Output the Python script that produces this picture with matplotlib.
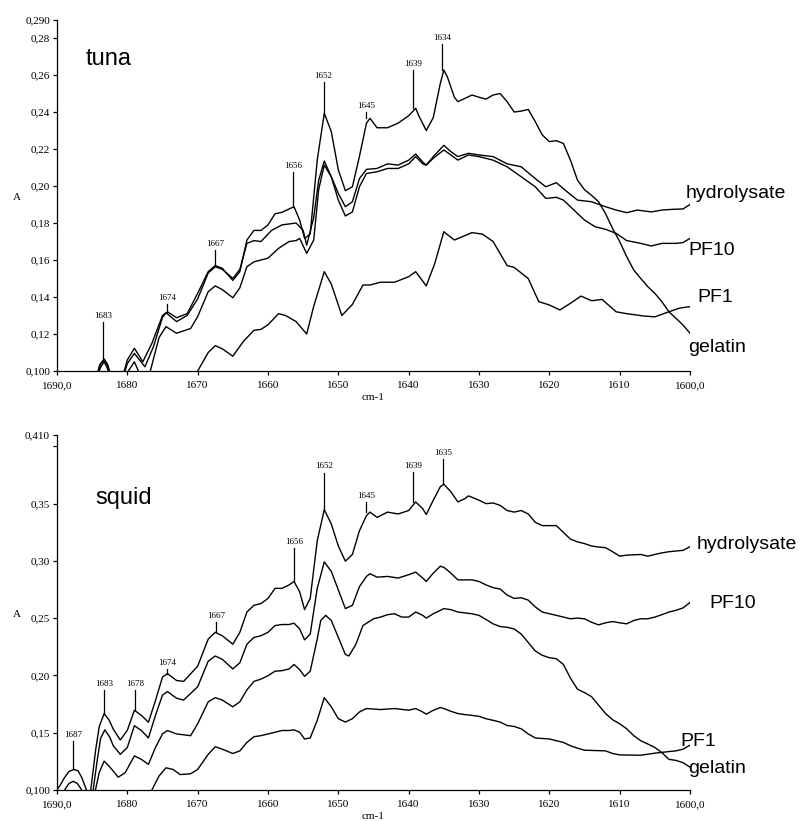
import numpy as np
import matplotlib
matplotlib.use("Agg")
from matplotlib import pyplot as plt

# ---- tuna panel: (wavenumber, absorbance) ----
tuna_gelatin = [
    (1690, 0.06), (1685, 0.085), (1684.3, 0.098), (1683.9, 0.1035), (1683.3, 0.1065),
    (1682.8, 0.1035), (1682.4, 0.098), (1681.5, 0.085), (1680.6, 0.098), (1680, 0.106),
    (1679, 0.1123), (1677.8, 0.105), (1676.5, 0.115), (1675, 0.130), (1674.3, 0.132),
    (1673, 0.1288), (1671.5, 0.131), (1670, 0.142), (1668.5, 0.1537), (1667.5, 0.157),
    (1666.5, 0.1555), (1665, 0.149), (1664, 0.1537), (1663, 0.1708), (1662, 0.176),
    (1661, 0.176), (1660, 0.179), (1659, 0.185), (1658, 0.1858), (1657, 0.1876),
    (1656.3, 0.1888), (1655.5, 0.1816), (1654.8, 0.1717), (1654, 0.174), (1653, 0.214),
    (1652, 0.2393), (1651, 0.2294), (1650, 0.2087), (1649, 0.1975), (1648, 0.1996),
    (1647, 0.216), (1646, 0.234), (1645.5, 0.2366), (1644.5, 0.2315), (1643, 0.2315),
    (1641.5, 0.234), (1640, 0.238), (1639, 0.242), (1638.5, 0.2375), (1637.5, 0.230),
    (1636.5, 0.237), (1635.5, 0.2555), (1635, 0.2627), (1634.5, 0.259), (1633.5, 0.248),
    (1633, 0.2456), (1632, 0.2474), (1631, 0.2492), (1630, 0.248), (1629, 0.247),
    (1628, 0.2492), (1627, 0.250), (1626, 0.2456), (1625, 0.240), (1624, 0.2405),
    (1623, 0.2414), (1622, 0.2348), (1621, 0.2276), (1620, 0.224), (1619, 0.2245),
    (1618, 0.223), (1617, 0.214), (1616, 0.2032), (1615, 0.198), (1614, 0.195),
    (1613, 0.1915), (1612, 0.185), (1611, 0.177), (1610, 0.170), (1609, 0.1618),
    (1608, 0.1546), (1607, 0.150), (1606, 0.1456), (1605, 0.142), (1604, 0.1375),
    (1603, 0.132), (1602, 0.1285), (1601, 0.1249), (1600, 0.1204),
]
tuna_hydrolysate = [
    (1690, 0.06), (1685, 0.085), (1684.3, 0.098), (1683.9, 0.103), (1683.3, 0.106),
    (1682.8, 0.103), (1682.4, 0.098), (1681.5, 0.085), (1680.5, 0.098), (1680, 0.104),
    (1679, 0.1095), (1677.5, 0.1023), (1676.3, 0.113), (1675, 0.129), (1674.5, 0.1315),
    (1673, 0.1267), (1671.5, 0.130), (1670, 0.139), (1668.5, 0.153), (1667.5, 0.1564),
    (1666.5, 0.155), (1665, 0.150), (1664, 0.155), (1663, 0.169), (1662, 0.1705),
    (1661, 0.170), (1659.5, 0.176), (1658, 0.179), (1656, 0.180), (1655, 0.176),
    (1654.5, 0.168), (1653.5, 0.183), (1652.8, 0.203), (1652, 0.2135), (1651, 0.205),
    (1650, 0.196), (1649, 0.1888), (1648, 0.1915), (1647, 0.204), (1646, 0.209),
    (1644.5, 0.2095), (1643, 0.212), (1641.5, 0.2113), (1640, 0.214), (1639, 0.2173),
    (1638, 0.213), (1637.5, 0.2113), (1636.5, 0.2159), (1635, 0.222), (1634, 0.2186),
    (1633, 0.2159), (1631.5, 0.2177), (1630, 0.2168), (1628, 0.2159), (1626, 0.212),
    (1624, 0.2104), (1622, 0.204), (1620.5, 0.1996), (1619, 0.2018), (1617.5, 0.197),
    (1616, 0.1924), (1614, 0.1915), (1612, 0.1888), (1610.5, 0.187), (1609, 0.1856),
    (1607.5, 0.187), (1605.5, 0.186), (1604, 0.187), (1602.5, 0.1874), (1601, 0.1876),
    (1600, 0.190),
]
tuna_pf10 = [
    (1690, 0.06), (1685, 0.085), (1684.2, 0.098), (1683.8, 0.102), (1683.3, 0.105),
    (1682.9, 0.102), (1682.5, 0.098), (1681.5, 0.085), (1680.2, 0.098), (1679, 0.105),
    (1678.2, 0.098), (1677.5, 0.094), (1676.8, 0.099), (1675.5, 0.118), (1674.5, 0.124),
    (1673, 0.1204), (1671, 0.123), (1670, 0.1294), (1668.5, 0.1429), (1667.5, 0.146),
    (1666.5, 0.144), (1665, 0.1396), (1664, 0.145), (1663, 0.1564), (1662, 0.159),
    (1660, 0.161), (1658.5, 0.1663), (1657, 0.170), (1656, 0.1705), (1655.5, 0.1717),
    (1654.5, 0.1636), (1653.5, 0.1708), (1652.8, 0.198), (1652, 0.2113), (1651, 0.205),
    (1650, 0.1924), (1649, 0.1838), (1648, 0.186), (1647, 0.1996), (1646, 0.2068),
    (1644.5, 0.2077), (1643, 0.2095), (1641.5, 0.2095), (1640, 0.212), (1639, 0.2159),
    (1638, 0.212), (1637.5, 0.2113), (1636.5, 0.215), (1635, 0.2195), (1634, 0.2168),
    (1633, 0.214), (1631.5, 0.2168), (1630, 0.2159), (1628, 0.214), (1626, 0.2104),
    (1624, 0.205), (1622, 0.1996), (1620.5, 0.1933), (1619, 0.1939), (1618, 0.1924),
    (1616.5, 0.187), (1615, 0.1816), (1613.5, 0.178), (1612, 0.1766), (1610.5, 0.1744),
    (1609, 0.1705), (1607, 0.169), (1605.5, 0.1676), (1604, 0.169), (1602, 0.169),
    (1601, 0.1694), (1600, 0.1717),
]
tuna_pf1 = [
    (1676, 0.06), (1671, 0.09), (1670, 0.100), (1668.5, 0.110), (1667.5, 0.1137),
    (1666.5, 0.112), (1665, 0.108), (1663.5, 0.116), (1662, 0.122), (1661, 0.1225),
    (1660, 0.125), (1658.5, 0.131), (1657.5, 0.130), (1656, 0.1267), (1654.5, 0.120),
    (1653.5, 0.135), (1652, 0.1537), (1651, 0.147), (1649.5, 0.130), (1648, 0.136),
    (1646.5, 0.1465), (1645.5, 0.1465), (1644, 0.148), (1642, 0.148), (1640, 0.151),
    (1639, 0.1537), (1637.5, 0.146), (1636.3, 0.158), (1635, 0.1753), (1633.5, 0.1708),
    (1631, 0.1748), (1629.5, 0.174), (1628, 0.170), (1626, 0.157), (1625, 0.156),
    (1623, 0.150), (1621.5, 0.1375), (1620, 0.1357), (1618.5, 0.133), (1617, 0.1366),
    (1615.5, 0.1405), (1614, 0.138), (1612.5, 0.1387), (1610.5, 0.132), (1609, 0.131),
    (1606.5, 0.1297), (1605, 0.1293), (1603, 0.132), (1601.5, 0.134), (1600, 0.1348),
]

# ---- squid panel ----
squid_hydrolysate = [
    (1690, 0.100), (1689.5, 0.1045), (1689, 0.110), (1688.3, 0.116), (1687.6, 0.1178),
    (1687, 0.1165), (1686.5, 0.111), (1686, 0.103), (1685.6, 0.096), (1685.2, 0.100),
    (1684.5, 0.135), (1684, 0.155), (1683.3, 0.1666), (1682.6, 0.161), (1682, 0.153),
    (1681, 0.1435), (1680, 0.152), (1679, 0.1695), (1678, 0.165), (1677, 0.159),
    (1676, 0.178), (1675, 0.1985), (1674.3, 0.2015), (1673, 0.1955), (1672, 0.1947),
    (1670, 0.208), (1668.5, 0.2317), (1667.5, 0.2376), (1666.5, 0.2346), (1665, 0.2272),
    (1664, 0.2376), (1663, 0.2553), (1662, 0.2612), (1661, 0.2627), (1660, 0.2672),
    (1659, 0.276), (1658, 0.276), (1657, 0.279), (1656.3, 0.282), (1655.5, 0.273),
    (1654.8, 0.2574), (1654, 0.2672), (1653, 0.3175), (1652, 0.3447), (1651, 0.3322),
    (1650, 0.313), (1649, 0.2997), (1648, 0.3056), (1647, 0.3263), (1646, 0.3396),
    (1645.5, 0.3426), (1644.5, 0.338), (1643, 0.3426), (1641.5, 0.341), (1640, 0.344),
    (1639, 0.3515), (1638, 0.3456), (1637.5, 0.3405), (1636.5, 0.353), (1635.5, 0.3648),
    (1635, 0.367), (1634, 0.3604), (1633, 0.3515), (1632, 0.3544), (1631.5, 0.3568),
    (1630, 0.353), (1629, 0.350), (1628, 0.3506), (1627, 0.3485), (1626, 0.344),
    (1625, 0.3426), (1624, 0.344), (1623, 0.341), (1622, 0.3337), (1621, 0.3308),
    (1619, 0.3308), (1618, 0.3249), (1617, 0.319), (1616, 0.3166), (1615, 0.3151),
    (1614, 0.313), (1613, 0.3121), (1612, 0.3115), (1611, 0.308), (1610, 0.3041),
    (1609, 0.305), (1607, 0.3056), (1606, 0.3041), (1605, 0.3056), (1604, 0.307),
    (1603, 0.308), (1601, 0.3092), (1600, 0.3124),
]
squid_pf10 = [
    (1689.2, 0.096), (1688.9, 0.100), (1688.3, 0.1055), (1687.7, 0.1074), (1687.1, 0.1055),
    (1686.5, 0.100), (1686.2, 0.096), (1685.3, 0.085), (1684.9, 0.098), (1684.3, 0.125),
    (1683.8, 0.145), (1683.2, 0.1524), (1682.5, 0.146), (1682, 0.1385), (1681, 0.131),
    (1680, 0.137), (1679, 0.156), (1678, 0.1518), (1677, 0.1453), (1676, 0.165),
    (1675, 0.1828), (1674.3, 0.1858), (1673, 0.180), (1672, 0.1784), (1670, 0.190),
    (1668.5, 0.2124), (1667.5, 0.2169), (1666.5, 0.214), (1665, 0.2056), (1664, 0.211),
    (1663, 0.2272), (1662, 0.2331), (1661, 0.2346), (1660, 0.2376), (1659, 0.2435),
    (1658, 0.2444), (1657, 0.2444), (1656.3, 0.2456), (1655.5, 0.2405), (1654.8, 0.231),
    (1654, 0.236), (1653, 0.276), (1652, 0.2991), (1651, 0.2908), (1650, 0.2746),
    (1649, 0.2583), (1648, 0.2612), (1647, 0.2775), (1646, 0.2864), (1645.5, 0.2888),
    (1644.5, 0.2858), (1643, 0.2864), (1641.5, 0.285), (1640, 0.2879), (1639, 0.2902),
    (1638, 0.285), (1637.5, 0.282), (1636.5, 0.2893), (1635.5, 0.2953), (1635, 0.2944),
    (1634, 0.2893), (1633, 0.2834), (1631, 0.2834), (1630, 0.282), (1629, 0.279),
    (1628, 0.2766), (1627, 0.2754), (1626, 0.2701), (1625, 0.2672), (1624, 0.2678),
    (1623, 0.2657), (1622, 0.2598), (1621, 0.2553), (1620, 0.2538), (1619, 0.2524),
    (1618, 0.2509), (1617, 0.2494), (1616, 0.250), (1615, 0.2494), (1614, 0.2464),
    (1613, 0.2441), (1612, 0.2459), (1611, 0.247), (1610, 0.2459), (1609, 0.245),
    (1608, 0.2479), (1607, 0.2494), (1606, 0.2494), (1605, 0.2509), (1604, 0.253),
    (1603, 0.2553), (1602, 0.2568), (1601, 0.2589), (1600, 0.2636),
]
squid_gelatin = [
    (1685.2, 0.085), (1684.6, 0.098), (1684, 0.115), (1683.3, 0.1251), (1682.5, 0.120),
    (1682, 0.1163), (1681.3, 0.111), (1680.3, 0.115), (1679, 0.1296), (1678, 0.1266),
    (1677, 0.1222), (1676, 0.137), (1675, 0.1488), (1674.3, 0.1518), (1673, 0.1488),
    (1671, 0.1473), (1670, 0.1577), (1668.5, 0.1769), (1667.5, 0.1805), (1666.5, 0.1784),
    (1665, 0.1725), (1664, 0.1769), (1663, 0.1873), (1662, 0.1947), (1661, 0.1967),
    (1660, 0.1997), (1659, 0.2036), (1658, 0.2041), (1657, 0.2056), (1656.3, 0.2095),
    (1655.5, 0.205), (1654.8, 0.1991), (1654, 0.2036), (1653, 0.2317), (1652.5, 0.2479),
    (1651.8, 0.2524), (1651, 0.2479), (1650, 0.2331), (1649, 0.2183), (1648.5, 0.2169),
    (1647.5, 0.2272), (1646.5, 0.2435), (1645, 0.2494), (1644, 0.2509), (1643, 0.253),
    (1642, 0.2538), (1641, 0.2509), (1640, 0.2509), (1639, 0.2553), (1638, 0.2524),
    (1637.5, 0.250), (1636.5, 0.2538), (1635, 0.2583), (1634, 0.2574), (1633, 0.2553),
    (1631, 0.2538), (1630, 0.2524), (1629, 0.2488), (1628, 0.245), (1627, 0.2426),
    (1626, 0.242), (1625, 0.2405), (1624, 0.2361), (1623, 0.2287), (1622, 0.2213),
    (1621, 0.2175), (1620, 0.2154), (1619, 0.2145), (1618, 0.2095), (1617, 0.1976),
    (1616, 0.1879), (1615, 0.1849), (1614, 0.1814), (1613, 0.174), (1612, 0.1666),
    (1611, 0.1612), (1610, 0.1577), (1609, 0.1533), (1608, 0.1473), (1607, 0.1429),
    (1606, 0.140), (1605, 0.137), (1604, 0.1325), (1603, 0.1266), (1602, 0.1257),
    (1601, 0.1237), (1600, 0.1198),
]
squid_pf1 = [
    (1677.5, 0.085), (1676.5, 0.100), (1675.5, 0.112), (1674.5, 0.1192), (1673.5, 0.1178),
    (1672.5, 0.1133), (1671, 0.114), (1670, 0.1178), (1668.5, 0.131), (1667.5, 0.1376),
    (1666.5, 0.1355), (1665, 0.1317), (1664, 0.134), (1663, 0.1414), (1662, 0.1464),
    (1661, 0.1473), (1660, 0.1488), (1659, 0.1503), (1658, 0.1518), (1657, 0.1518),
    (1656.3, 0.1524), (1655.5, 0.1503), (1654.8, 0.1444), (1654, 0.1453), (1653, 0.1607),
    (1652, 0.1805), (1651, 0.1725), (1650, 0.1621), (1649, 0.1592), (1648, 0.1621),
    (1647, 0.168), (1646, 0.171), (1644, 0.1701), (1642, 0.171), (1640, 0.1695),
    (1639, 0.171), (1638, 0.168), (1637.5, 0.166), (1636.5, 0.1695), (1635.5, 0.1719),
    (1635, 0.171), (1634, 0.1686), (1633, 0.1666), (1632, 0.1657), (1631, 0.165),
    (1630, 0.1642), (1629, 0.1621), (1628, 0.1607), (1627, 0.1592), (1626, 0.1562),
    (1625, 0.1553), (1624, 0.1533), (1623, 0.1488), (1622, 0.1453), (1620, 0.1444),
    (1619, 0.1429), (1618, 0.1414), (1617, 0.1385), (1616, 0.1364), (1615, 0.1346),
    (1612, 0.134), (1611, 0.1317), (1610, 0.1305), (1607, 0.1302), (1606, 0.1311),
    (1605, 0.132), (1603, 0.1334), (1602, 0.134), (1601, 0.1355), (1600, 0.139),
]

# peak marks: label, x, peak value, top of marker line
tuna_peak_labels = ["1683", "1674", "1667", "1656", "1652", "1645", "1639", "1634"]
tuna_peak_x = [1683.4, 1674.3, 1667.5, 1656.4, 1652.1, 1646.0, 1639.4, 1635.2]
tuna_peak_y = [0.1065, 0.132, 0.157, 0.1888, 0.2393, 0.2366, 0.242, 0.2627]
tuna_peak_top = [0.1266, 0.1364, 0.1654, 0.2078, 0.2560, 0.2402, 0.2627, 0.2768]

squid_peak_labels = ["1687", "1683", "1678", "1674", "1667", "1656", "1652", "1645", "1639", "1635"]
squid_peak_x = [1687.7, 1683.3, 1678.9, 1674.3, 1667.4, 1656.3, 1652.0, 1646.0, 1639.4, 1635.1]
squid_peak_y = [0.1178, 0.1666, 0.1695, 0.2015, 0.2376, 0.282, 0.3447, 0.3426, 0.3515, 0.367]
squid_peak_top = [0.1429, 0.1873, 0.1873, 0.2056, 0.2464, 0.311, 0.3772, 0.3515, 0.378, 0.389]

x_ticks = [1690, 1680, 1670, 1660, 1650, 1640, 1630, 1620, 1610, 1600]
x_ticklabels = ["1690,0", "1680", "1670", "1660", "1650", "1640", "1630", "1620", "1610", "1600,0"]
tuna_yticks = [0.100, 0.12, 0.14, 0.16, 0.18, 0.20, 0.22, 0.24, 0.26, 0.28, 0.290]
tuna_yticklabels = ["0,100", "0,12", "0,14", "0,16", "0,18", "0,20", "0,22", "0,24", "0,26", "0,28", "0,290"]
squid_yticks = [0.100, 0.15, 0.20, 0.25, 0.30, 0.35, 0.40, 0.410]
squid_yticklabels = ["0,100", "0,15", "0,20", "0,25", "0,30", "0,35", "", "0,410"]

# curve name labels: (text, x, baseline y)
tuna_names = [("hydrolysate", 1600.6, 0.1933), ("PF10", 1600.2, 0.1627),
              ("PF1", 1599.0, 0.1375), ("gelatin", 1600.2, 0.1105)]
squid_names = [("hydrolysate", 1599.0, 0.310), ("PF10", 1597.3, 0.2589),
               ("PF1", 1601.4, 0.1385), ("gelatin", 1600.2, 0.1148)]

SERIF = "Liberation Serif"
SANS = "Liberation Sans"

fig = plt.figure(figsize=(8.0, 8.21), dpi=100)
ax_top = fig.add_axes([0.07125, 0.5481, 0.79125, 0.4281])
ax_bot = fig.add_axes([0.07125, 0.0380, 0.79125, 0.4322])


def draw_panel(ax, curves, ylim, yticks, yticklabels, title, title_pos,
               peak_labels, peak_x, peak_y, peak_top, names):
    for c in curves:
        arr = np.array(c)
        ax.plot(arr[:, 0], arr[:, 1], color="black", lw=1.0,
                solid_joinstyle="round")
    for lab, px, py, pt in zip(peak_labels, peak_x, peak_y, peak_top):
        ax.plot([px, px], [py, pt], color="black", lw=0.9)
        ax.annotate(lab, (px, pt), xytext=(0, 1.5), textcoords="offset points",
                    ha="center", va="bottom", fontsize=6.5, family=SERIF)
    for txt, nx, ny in names:
        ax.text(nx, ny, txt, ha="left", va="baseline", fontsize=14,
                family=SANS, clip_on=False)
    ax.text(title_pos[0], title_pos[1], title, ha="left", va="baseline",
            fontsize=17, family=SANS)
    ax.set_xlim(1690, 1600)
    ax.set_ylim(*ylim)
    ax.set_xticks(x_ticks)
    ax.set_xticklabels(x_ticklabels, family=SERIF, fontsize=8)
    ax.set_yticks(yticks)
    ax.set_yticklabels(yticklabels, family=SERIF, fontsize=8)
    ax.tick_params(axis="both", direction="out", length=3, width=0.9)
    ax.tick_params(axis="x", pad=4.5)
    ax.tick_params(axis="y", pad=2)
    for s in ["top", "right"]:
        ax.spines[s].set_visible(False)
    for s in ["left", "bottom"]:
        ax.spines[s].set_linewidth(0.9)
    ax.set_xlabel("cm-1", family=SERIF, fontsize=8, labelpad=2)
    ax.set_ylabel("A", family=SERIF, fontsize=8, rotation=0)
    ax.yaxis.set_label_coords(-0.063, 0.48)


draw_panel(ax_top, [tuna_gelatin, tuna_hydrolysate, tuna_pf10, tuna_pf1],
           (0.100, 0.290), tuna_yticks, tuna_yticklabels, "tuna", (1685.9, 0.2654),
           tuna_peak_labels, tuna_peak_x, tuna_peak_y, tuna_peak_top, tuna_names)
draw_panel(ax_bot, [squid_hydrolysate, squid_pf10, squid_gelatin, squid_pf1],
           (0.100, 0.410), squid_yticks, squid_yticklabels, "squid", (1684.6, 0.350),
           squid_peak_labels, squid_peak_x, squid_peak_y, squid_peak_top, squid_names)

fig.savefig("out.png", dpi=100)
